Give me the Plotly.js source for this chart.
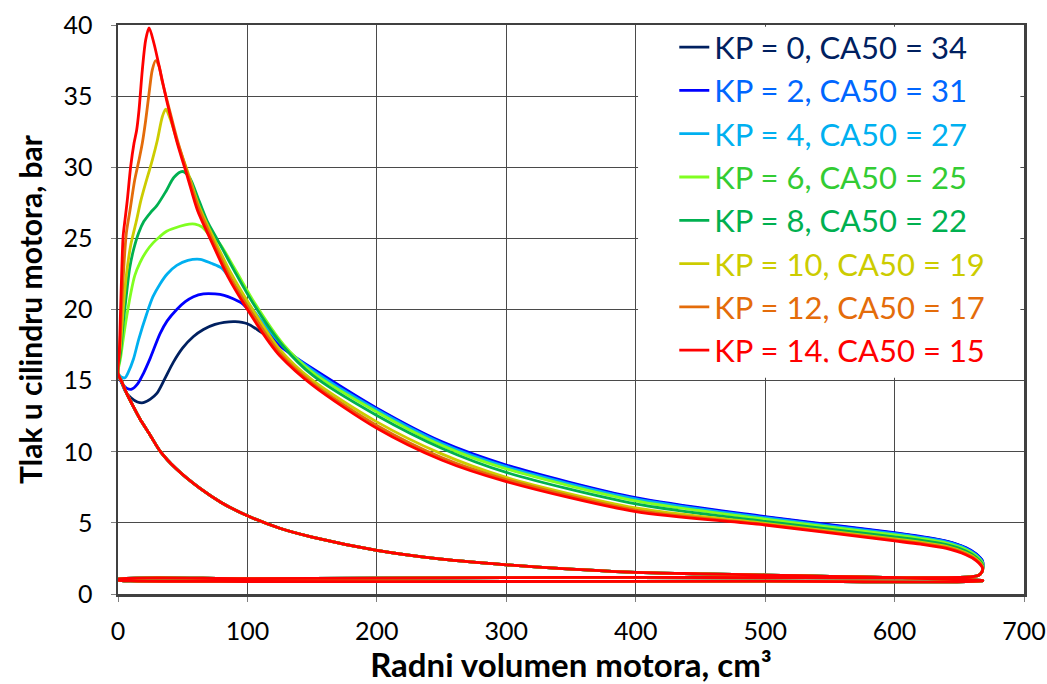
<!DOCTYPE html>
<html>
<head>
<meta charset="utf-8">
<script src="https://cdn.plot.ly/plotly-3.0.1.min.js"></script>
<style>html,body{margin:0;padding:0;background:#fff;}#chart{width:1047px;height:684px;}</style>
</head>
<body>
<div id="chart"></div>
<script>
// ---------- Series labels and colours ----------
const seriesNames = ["KP = 0, CA50 = 34","KP = 2, CA50 = 31","KP = 4, CA50 = 27","KP = 6, CA50 = 25",
                     "KP = 8, CA50 = 22","KP = 10, CA50 = 19","KP = 12, CA50 = 17","KP = 14, CA50 = 15"];
const lineColors = ["#002060","#0000FF","#00B0F0","#80FF20","#00B050","#CCCC00","#E46C0A","#FF0000"];
const textColors = ["#002060","#0066FF","#00B0F0","#33CC33","#00B050","#CCCC00","#E46C0A","#FF0000"];

// ---------- Combustion / early expansion (V in cm3, p in bar) ----------
const V_kp0  = [0,3,6,10,15,19.6,25,30,36,42.8,50,58.3,66,75,82,90.5,100,109.8,120,130.4,140,150];
const P_kp0  = [15.5,14.8,14.2,13.8,13.5,13.45,13.7,14.1,15.1,16.3,17.3,18.1,18.6,18.95,19.1,19.15,19.0,18.45,17.8,17.16,16.4,15.8];
const V_kp2  = [0,2,4,7,10.6,15,19.6,25,32.5,38,45.4,52,58.3,66,75,82,89,95.6,105,115,125,137,150];
const P_kp2  = [15.5,15.0,14.7,14.45,14.4,14.75,15.5,16.6,18.3,19.2,20.0,20.55,20.9,21.1,21.1,21.0,20.75,20.44,19.55,18.5,17.45,16.65,15.87];
const V_kp4  = [0,2.5,5.4,8,11.9,16,22.2,27,32.5,38,45.4,54,63.4,72,80.2,90,100,110,127.8,150];
const P_kp4  = [15.5,15.25,15.2,15.6,16.5,17.9,19.7,20.9,21.8,22.5,23.1,23.45,23.53,23.25,22.9,21.7,20.5,19.3,17.4,15.75];
const V_kp6  = [0,2,4,6.7,10,13,17,22,27.3,32,37.6,47.9,55,59.5,65,70,78,90,106,127.8,150];
const P_kp6  = [15.5,16.6,17.9,19.5,21.2,22.4,23.3,24.1,24.7,25.1,25.5,25.85,26.0,26.0,25.8,25.3,24.7,22.9,20.4,17.55,15.6];
const V_kp8  = [0,2,4,6.7,9,12,16,20,25,30,37,43.3,49.7,54.9,62.8,69,76.3,90,104.6,127.8,150];
const P_kp8  = [15.5,17.0,19.0,21.2,22.9,24.2,25.4,26.2,26.8,27.3,28.3,29.3,29.7,29.35,27.6,26.2,25.0,22.7,20.4,17.4,15.4];
const V_kp10 = [0,2,4,6.7,10,14.4,17.5,21.4,24,26.5,30.4,34.3,36.9,40.7,46.5,54.5,62.5,73,87,102,125,150];
const P_kp10 = [15.5,17.5,20.0,22.6,24.6,26.3,27.6,28.9,29.7,30.5,31.9,33.57,34.08,33.3,31.6,29.5,27.3,25.2,22.6,20.3,17.2,15.05];
const V_kp12 = [0,1.5,3,4.5,6.5,9.3,12.9,16.2,18.8,21.4,24,26.5,29.1,31.7,34,38.5,46.2,54,62,72,86,101,125,150];
const P_kp12 = [15.5,17.5,20.5,23.0,25.4,27.0,29.1,30.5,31.7,33.3,35.2,36.85,37.5,37.1,36.1,34.5,31.8,29.5,27.2,25.1,22.4,20.1,16.95,14.85];
const V_kp14 = [0,1,2,3,4,5.4,7.2,9.8,12.4,14.4,16.2,18.8,21.4,24,27.8,33,38.1,45.8,53.6,61.3,71.1,85,100,117.5,125,150];
const P_kp14 = [15.5,17.0,20.0,23.0,25.2,26.3,27.7,30.05,31.7,32.6,34.0,36.85,38.96,39.8,38.7,36.6,34.5,31.7,29.35,27.0,25.0,22.3,20.0,17.6,16.75,14.7];

// ---------- Late expansion (common volumes, per-series pressures) ----------
const V_late = [200,250,300,400,500,600,620,640,655,663,668];
const P_late_kp0  = [13.0,10.65,9.0,6.72,5.40,4.28,4.02,3.70,3.24,2.80,2.28];
const P_late_kp2  = [13.06,10.71,9.07,6.77,5.44,4.31,4.05,3.72,3.26,2.82,2.30];
const P_late_kp4  = [12.95,10.6,8.95,6.68,5.36,4.24,3.98,3.66,3.20,2.76,2.22];
const P_late_kp6  = [12.8,10.45,8.8,6.55,5.26,4.15,3.90,3.58,3.12,2.68,2.15];
const P_late_kp8  = [12.55,10.25,8.55,6.33,5.10,4.02,3.78,3.47,3.02,2.58,2.05];
const P_late_kp10 = [12.1,9.85,8.2,6.05,4.97,3.88,3.65,3.35,2.90,2.48,1.95];
const P_late_kp12 = [11.85,9.6,8.05,5.9,4.90,3.80,3.57,3.27,2.83,2.41,1.88];
const P_late_kp14 = [11.65,9.42,7.9,5.79,4.85,3.73,3.50,3.20,2.76,2.35,1.82];

// ---------- Gas exchange and compression (shared by all series) ----------
const V_blow = [667.5,665,660];
const P_blow = [1.55,1.32,1.22];
const V_exh  = [640,500,400,300,200,100,0];
const P_exh  = [1.15,1.15,1.17,1.15,1.12,1.08,1.05];
const V_int  = [0,10,100,300,500,668];
const P_int  = [0.98,0.92,0.88,0.88,0.90,0.92];
const V_comp = [668,640,600,550,500,450,400,350,300,250,200,150,125,100,80,63.4,45,32.5,25,17,12,6.7,3,0];
const P_comp = [0.95,1.05,1.15,1.24,1.33,1.42,1.52,1.75,2.05,2.45,3.07,4.0,4.62,5.5,6.42,7.42,8.8,10.05,11.15,12.3,13.15,14.1,14.9,15.5];

const combV = [V_kp0,V_kp2,V_kp4,V_kp6,V_kp8,V_kp10,V_kp12,V_kp14];
const combP = [P_kp0,P_kp2,P_kp4,P_kp6,P_kp8,P_kp10,P_kp12,P_kp14];
const lateP = [P_late_kp0,P_late_kp2,P_late_kp4,P_late_kp6,P_late_kp8,P_late_kp10,P_late_kp12,P_late_kp14];

const FONT = "Lato, 'Open Sans', 'DejaVu Sans', sans-serif";

const traces = seriesNames.map((nm, i) => ({
  type: "scatter",
  mode: "lines",
  x: [].concat(combV[i], V_late, V_blow, V_exh, V_int, V_comp),
  y: [].concat(combP[i], lateP[i], P_blow, P_exh, P_int, P_comp),
  name: '<span style="color:' + textColors[i] + '">' + nm + '</span>',
  legendgroup: "g" + i,
  line: {color: lineColors[i], width: 2.8, shape: "spline", smoothing: 0.8},
  hoverinfo: "x+y"
}));

const layout = {
  width: 1047, height: 684,
  paper_bgcolor: "#ffffff", plot_bgcolor: "#ffffff",
  margin: {l: 118, r: 23, t: 25, b: 90},
  font: {family: FONT, color: "#000000"},
  showlegend: true,
  legend: {
    x: 0.614, y: 1.008, xanchor: "left", yanchor: "top",
    bgcolor: "rgba(255,255,255,0)", borderwidth: 0,
    font: {family: FONT, size: 31},
    tracegroupgap: 4.5,
    itemwidth: 30,
    traceorder: "normal"
  },
  // white backing behind the legend box (region holds no data marks)
  shapes: [{
    type: "rect", xref: "paper", yref: "paper", layer: "above",
    x0: 0.574, x1: 0.996, y0: 0.38, y1: 0.997,
    fillcolor: "#ffffff", line: {width: 0}
  }],
  xaxis: {
    range: [0, 700], dtick: 100, tick0: 0,
    showgrid: true, gridcolor: "#4a4a4a", gridwidth: 1,
    showline: true, linecolor: "#404040", linewidth: 2.5, mirror: true,
    ticks: "outside", ticklen: 5, tickcolor: "#7f7f7f",
    tickfont: {family: FONT, size: 25, color: "#000"},
    ticklabelstandoff: 8,
    zeroline: false,
    title: {text: "<b>Radni volumen motora, cm³</b>", font: {family: FONT, size: 33, color: "#000"}, standoff: 4}
  },
  yaxis: {
    range: [0, 40], dtick: 5, tick0: 0,
    showgrid: true, gridcolor: "#4a4a4a", gridwidth: 1,
    showline: true, linecolor: "#404040", linewidth: 2.5, mirror: true,
    ticks: "outside", ticklen: 5, tickcolor: "#7f7f7f",
    tickfont: {family: FONT, size: 25, color: "#000"},
    ticklabelstandoff: 13,
    zeroline: false,
    title: {text: "<b>Tlak u cilindru motora, bar</b>", font: {family: FONT, size: 30, color: "#000"}, standoff: 12}
  }
};

Plotly.newPlot("chart", traces, layout, {displayModeBar: false, staticPlot: true});
</script>
</body>
</html>
